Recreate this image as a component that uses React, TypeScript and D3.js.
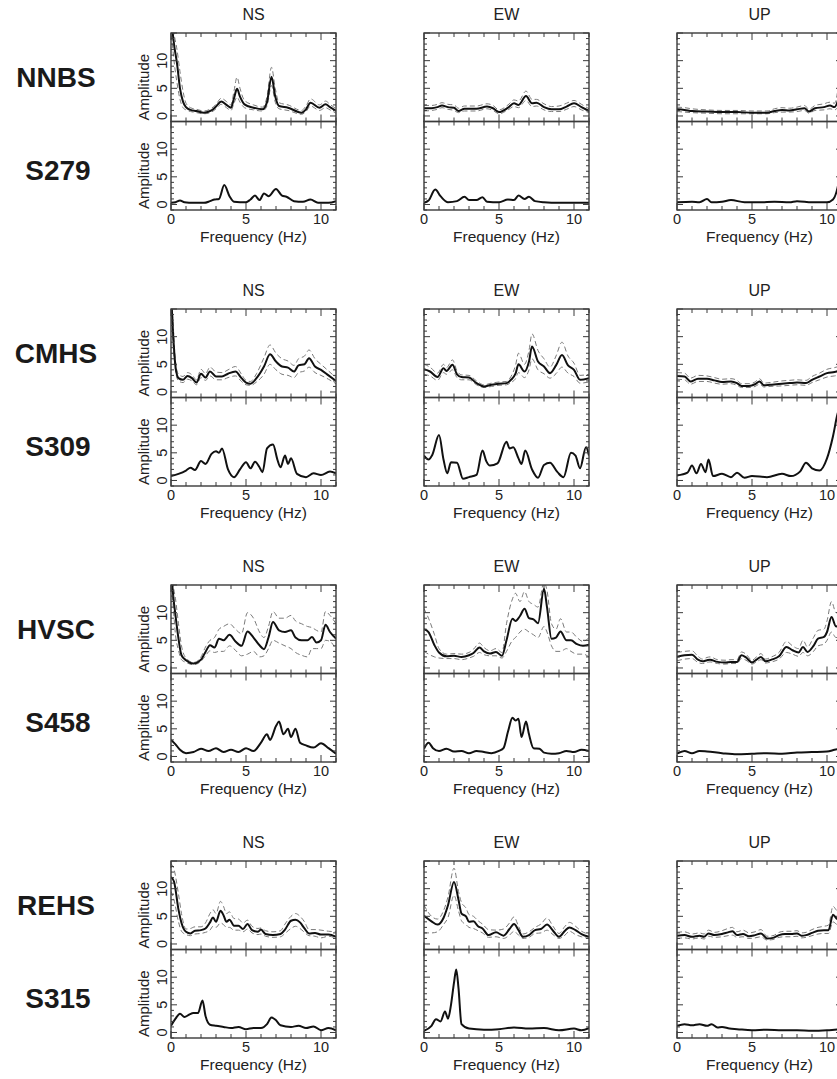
import React from 'react';
import * as d3 from 'd3';

type Band = [number, number, number, number]; // freq, mean, lower, upper
type Pt = [number, number]; // freq, amplitude

// ---- surface stations: mean with dashed +/- bounds ----
const nnbsNS: Band[] = [
  [0, 18, 16, 20], [0.2, 13, 10, 15], [0.4, 9.5, 6, 12], [0.6, 5, 3, 8], [0.8, 2.6, 1.5, 4.5],
  [1.0, 1.6, 1.1, 2.3], [1.3, 1.1, 0.8, 1.5], [1.7, 0.9, 0.6, 1.2], [2.2, 0.6, 0.4, 0.9],
  [2.7, 1.0, 0.7, 1.4], [3.0, 1.7, 1.3, 2.1], [3.35, 2.6, 2.1, 3.2], [3.7, 2.0, 1.5, 2.6],
  [4.0, 1.5, 1.0, 2.0], [4.2, 3.2, 2.3, 4.5], [4.4, 4.9, 3.4, 7.0], [4.6, 3.5, 2.5, 5.0],
  [4.9, 2.1, 1.5, 2.8], [5.5, 1.5, 1.1, 2.0], [6.1, 1.2, 0.9, 1.6], [6.4, 2.5, 1.8, 3.5],
  [6.7, 7.1, 5.5, 8.8], [6.95, 3.5, 2.5, 5.0], [7.2, 1.8, 1.3, 2.4], [7.8, 1.5, 1.0, 2.0],
  [8.7, 0.6, 0.3, 1.0], [9.0, 1.2, 0.8, 1.8], [9.3, 2.4, 1.8, 3.1], [9.9, 1.5, 1.0, 2.0],
  [10.3, 2.1, 1.5, 2.7], [10.6, 1.6, 1.1, 2.1], [11, 0.9, 0.5, 1.3],
];
const nnbsEW: Band[] = [
  [0, 1.4, 0.9, 1.9], [0.5, 1.4, 1.0, 1.9], [0.9, 1.6, 1.2, 2.1], [1.2, 1.9, 1.5, 2.4],
  [1.6, 1.6, 1.2, 2.1], [2.0, 1.5, 1.0, 2.0], [2.3, 0.9, 0.6, 1.4], [2.7, 1.3, 0.9, 1.8],
  [3.5, 1.3, 0.9, 1.8], [4.2, 1.7, 1.3, 2.2], [4.6, 1.4, 1.0, 1.9], [5.0, 0.7, 0.4, 1.1],
  [5.6, 1.5, 1.1, 2.0], [6.0, 2.3, 1.7, 2.9], [6.3, 2.0, 1.5, 2.7], [6.8, 3.6, 2.8, 4.5],
  [7.2, 2.3, 1.7, 3.0], [7.5, 2.4, 1.8, 3.0], [8.0, 1.6, 1.1, 2.2], [8.5, 1.2, 0.8, 1.7],
  [9.0, 1.2, 0.8, 1.8], [9.5, 1.7, 1.2, 2.3], [10.0, 2.3, 1.7, 2.8], [10.5, 1.6, 1.1, 2.1],
  [11, 0.9, 0.6, 1.3],
];
const nnbsUP: Band[] = [
  [0, 1.2, 0.8, 1.6], [0.5, 1.1, 0.7, 1.5], [1.0, 0.9, 0.6, 1.3], [2.0, 0.8, 0.5, 1.1],
  [3.0, 0.7, 0.4, 1.0], [4.0, 0.7, 0.4, 1.0], [5.0, 0.6, 0.4, 0.9], [6.0, 0.6, 0.4, 0.9],
  [6.5, 0.9, 0.6, 1.3], [7.0, 1.1, 0.7, 1.5], [7.5, 1.0, 0.7, 1.4], [8.0, 1.2, 0.8, 1.6],
  [8.5, 1.4, 1.0, 1.9], [8.8, 0.8, 0.5, 1.2], [9.2, 1.4, 1.0, 1.9], [9.8, 1.6, 1.1, 2.2],
  [10.2, 1.9, 1.3, 2.5], [10.5, 1.6, 1.1, 2.3], [10.8, 3.5, 2.0, 6], [11, 6, 3.5, 10],
];
const cmhsNS: Band[] = [
  [0, 18, 16, 20], [0.15, 10, 8.5, 12], [0.3, 4.6, 3.8, 5.5], [0.5, 2.5, 2.0, 3.2],
  [0.8, 2.2, 1.7, 2.8], [1.1, 2.9, 2.3, 3.5], [1.4, 2.5, 2.0, 3.1], [1.7, 1.7, 1.3, 2.2],
  [2.0, 3.3, 2.6, 4.1], [2.3, 2.6, 2.1, 3.3], [2.6, 3.7, 2.9, 4.5], [3.0, 2.8, 2.2, 3.6],
  [3.4, 2.8, 2.2, 3.5], [3.8, 3.3, 2.6, 4.0], [4.3, 3.7, 2.9, 4.6], [4.7, 2.5, 1.9, 3.2],
  [5.0, 1.7, 1.3, 2.1], [5.3, 1.5, 1.2, 1.9], [5.7, 2.5, 1.8, 3.3], [6.2, 4.6, 3.2, 6.2],
  [6.6, 6.8, 5.0, 8.5], [7.0, 5.5, 4.0, 7.0], [7.4, 4.6, 3.2, 6.0], [7.8, 4.4, 3.0, 5.6],
  [8.2, 3.7, 2.6, 4.8], [8.5, 4.8, 3.5, 6.0], [8.9, 5.0, 3.8, 6.5], [9.2, 6.1, 4.5, 7.6],
  [9.6, 4.6, 3.5, 6.0], [10.0, 4.0, 3.0, 5.0], [10.5, 3.0, 2.3, 3.8], [11, 2.0, 1.5, 2.6],
];
const cmhsEW: Band[] = [
  [0, 4.1, 3.2, 5.0], [0.4, 3.7, 2.9, 4.5], [0.9, 2.7, 2.1, 3.4], [1.3, 4.3, 3.5, 5.0],
  [1.5, 3.8, 3.2, 4.4], [1.9, 4.9, 4.0, 5.8], [2.2, 3.2, 2.6, 3.8], [2.5, 2.7, 2.2, 3.1],
  [3.0, 2.6, 2.2, 3.0], [3.5, 1.6, 1.3, 2.0], [4.0, 1.0, 0.8, 1.3], [4.5, 1.3, 1.0, 1.6],
  [5.0, 1.5, 1.2, 1.8], [5.5, 1.6, 1.3, 1.9], [5.8, 2.2, 1.7, 2.8], [6.1, 3.3, 2.4, 4.8],
  [6.3, 5.0, 3.5, 7.0], [6.7, 3.7, 2.6, 5.0], [7.0, 5.5, 4.0, 7.5], [7.2, 8.2, 6.0, 10.5],
  [7.6, 5.5, 4.0, 7.5], [8.0, 4.6, 3.3, 6.0], [8.4, 3.4, 2.5, 4.5], [8.8, 4.8, 3.3, 6.5],
  [9.2, 6.7, 4.5, 9.0], [9.6, 4.8, 3.4, 6.5], [10.0, 4.0, 2.8, 5.2], [10.4, 2.2, 1.6, 3.0],
  [11, 2.5, 1.8, 3.2],
];
const cmhsUP: Band[] = [
  [0, 2.9, 2.3, 3.5], [0.5, 2.8, 2.2, 3.4], [0.9, 1.9, 1.4, 2.5], [1.4, 2.4, 1.9, 3.0],
  [2.0, 2.4, 1.9, 2.9], [2.5, 2.1, 1.6, 2.6], [3.0, 1.8, 1.4, 2.3], [3.6, 1.9, 1.5, 2.4],
  [4.0, 1.6, 1.2, 2.1], [4.3, 1.1, 0.8, 1.5], [4.8, 1.1, 0.8, 1.5], [5.2, 1.4, 1.0, 1.8],
  [5.5, 1.9, 1.4, 2.4], [5.8, 1.2, 0.9, 1.6], [6.2, 1.3, 1.0, 1.7], [7.0, 1.5, 1.1, 2.0],
  [7.5, 1.6, 1.2, 2.1], [8.0, 1.7, 1.3, 2.2], [8.6, 1.6, 1.2, 2.1], [9.0, 2.2, 1.7, 2.8],
  [9.5, 2.8, 2.2, 3.4], [10.0, 3.4, 2.7, 4.1], [10.5, 3.6, 2.9, 4.4], [11, 4.0, 3.2, 4.8],
];
const hvscNS: Band[] = [
  [0, 18, 16, 20], [0.15, 13, 11, 15], [0.3, 9.5, 6, 12.5], [0.5, 5.3, 3.2, 8.0],
  [0.7, 2.3, 1.5, 4.0], [1.0, 1.4, 1.0, 1.8], [1.5, 0.8, 0.6, 1.0], [2.0, 1.5, 1.2, 2.0],
  [2.3, 2.9, 2.2, 3.8], [2.6, 4.1, 3.1, 5.0], [2.9, 3.7, 2.8, 5.5], [3.2, 5.3, 3.0, 7.0],
  [3.5, 5.0, 3.0, 7.5], [3.9, 6.0, 4.0, 8.0], [4.3, 4.8, 3.2, 7.0], [4.7, 4.0, 2.2, 6.2],
  [5.1, 6.6, 2.5, 10.0], [5.5, 5.5, 3.0, 9.0], [5.9, 4.1, 2.0, 6.5], [6.2, 3.4, 2.2, 5.5],
  [6.5, 5.5, 3.5, 7.5], [6.8, 8.3, 5.0, 10.2], [7.2, 6.8, 4.5, 9.0], [7.6, 6.5, 4.0, 9.0],
  [8.0, 6.8, 3.5, 9.5], [8.3, 5.5, 2.8, 8.5], [8.7, 5.0, 2.3, 8.0], [9.1, 5.0, 2.0, 7.5],
  [9.4, 5.6, 3.5, 7.3], [9.7, 4.6, 3.5, 6.8], [10.0, 5.0, 3.5, 6.5], [10.3, 7.8, 5.0, 10.2],
  [10.6, 6.5, 4.8, 9.5], [11, 5.3, 3.3, 8.0],
];
const hvscEW: Band[] = [
  [0, 7.0, 3.0, 10.7], [0.3, 6.5, 2.5, 9.0], [0.7, 4.1, 2.0, 6.0], [1.0, 2.8, 1.8, 3.5],
  [1.5, 2.1, 1.7, 2.5], [2.0, 2.2, 1.7, 2.6], [2.5, 2.0, 1.5, 2.5], [3.0, 2.3, 1.8, 2.8],
  [3.3, 2.7, 2.1, 3.4], [3.7, 3.7, 2.8, 4.5], [4.0, 3.0, 2.4, 3.7], [4.4, 2.6, 2.2, 3.1],
  [4.8, 2.9, 2.2, 3.5], [5.2, 2.2, 1.8, 2.8], [5.5, 5.0, 3.0, 8.0], [5.9, 8.9, 5.0, 12.5],
  [6.1, 8.5, 5.5, 13.5], [6.4, 9.4, 6.5, 12.0], [6.7, 10.7, 7.0, 13.8], [7.0, 9.0, 6.5, 12.0],
  [7.3, 8.8, 6.0, 11.5], [7.6, 8.1, 5.5, 11.0], [8.0, 14.3, 7.5, 15.5], [8.2, 11.0, 6.5, 14],
  [8.5, 5.3, 4.0, 8.0], [8.8, 5.5, 3.0, 7.0], [9.1, 6.6, 3.0, 8.9], [9.5, 5.0, 3.5, 6.5],
  [9.8, 5.0, 3.0, 6.5], [10.2, 4.3, 2.5, 5.5], [10.6, 4.0, 2.5, 4.8], [11, 4.2, 2.0, 5.5],
];
const hvscUP: Band[] = [
  [0, 2.0, 1.3, 2.8], [0.5, 2.3, 1.6, 3.0], [1.0, 2.4, 1.7, 3.1], [1.4, 1.5, 1.0, 2.1],
  [1.7, 1.2, 0.8, 1.6], [2.0, 1.4, 1.0, 1.9], [2.2, 1.5, 1.1, 2.0], [2.7, 1.1, 0.8, 1.5],
  [3.2, 1.0, 0.7, 1.4], [3.6, 1.1, 0.8, 1.5], [4.0, 1.1, 0.8, 1.5], [4.3, 2.3, 1.7, 2.9],
  [4.6, 1.9, 1.4, 2.5], [5.0, 1.0, 0.7, 1.4], [5.3, 1.5, 1.1, 2.0], [5.6, 2.0, 1.5, 2.6],
  [5.9, 1.2, 0.9, 1.6], [6.3, 1.5, 1.1, 2.0], [6.8, 2.1, 1.6, 2.8], [7.3, 3.8, 2.8, 4.8],
  [7.7, 3.2, 2.5, 4.0], [8.1, 2.8, 2.1, 3.5], [8.4, 3.8, 2.8, 5.0], [8.7, 2.9, 2.2, 3.8],
  [9.1, 4.0, 3.0, 5.5], [9.4, 5.3, 4.0, 6.8], [9.8, 5.6, 4.3, 7.0], [10.0, 6.5, 5.0, 8.5],
  [10.3, 9.2, 6.5, 12.0], [10.6, 7.5, 5.5, 10], [11, 8.5, 6, 11],
];
const rehsNS: Band[] = [
  [0, 12.1, 9.5, 14.5], [0.2, 11.3, 8.0, 13.5], [0.5, 6.2, 4.0, 9.0], [0.7, 3.8, 2.3, 5.5],
  [1.0, 2.2, 1.7, 2.7], [1.3, 1.9, 1.5, 2.8], [1.6, 2.4, 1.8, 3.1], [2.0, 2.5, 1.9, 3.1],
  [2.3, 2.8, 2.1, 3.8], [2.6, 3.9, 2.5, 5.5], [2.8, 4.8, 3.2, 6.2], [3.0, 4.0, 3.0, 5.5],
  [3.3, 6.0, 3.8, 7.7], [3.5, 5.2, 3.5, 6.8], [3.7, 4.0, 3.0, 5.5], [3.9, 4.4, 3.0, 5.8],
  [4.2, 3.3, 2.5, 4.6], [4.5, 3.3, 2.5, 4.5], [4.8, 2.7, 2.2, 3.8], [5.1, 3.6, 2.7, 4.3],
  [5.4, 2.5, 2.0, 3.2], [5.8, 2.2, 1.7, 2.8], [6.0, 2.6, 1.8, 2.9], [6.3, 1.8, 1.4, 2.4],
  [6.8, 1.6, 1.2, 2.2], [7.3, 1.8, 1.3, 2.4], [7.6, 2.6, 1.9, 3.6], [8.0, 4.2, 2.8, 5.0],
  [8.3, 4.4, 3.2, 5.5], [8.6, 3.9, 2.8, 5.0], [8.9, 2.8, 2.1, 4.0], [9.2, 1.9, 1.5, 2.6],
  [9.6, 2.0, 1.4, 2.6], [10.0, 1.7, 1.1, 2.5], [10.5, 1.7, 1.4, 2.3], [11, 1.3, 1.0, 2.2],
];
const rehsEW: Band[] = [
  [0, 5.1, 2.0, 7.0], [0.5, 4.1, 2.0, 5.0], [0.9, 3.5, 2.2, 4.5], [1.3, 4.7, 3.5, 6.0],
  [1.6, 7.0, 4.8, 8.5], [2.0, 11.2, 8.8, 13.7], [2.3, 8.0, 6.0, 9.5], [2.5, 5.5, 4.2, 7.5],
  [2.8, 5.0, 3.5, 6.5], [3.0, 4.0, 3.0, 5.3], [3.3, 4.1, 2.8, 5.0], [3.6, 3.2, 2.4, 4.2],
  [3.9, 2.8, 2.0, 3.6], [4.3, 1.6, 1.2, 2.6], [4.8, 2.1, 1.3, 2.5], [5.3, 1.5, 1.0, 2.7],
  [5.7, 2.7, 1.6, 3.8], [6.0, 3.6, 2.3, 4.9], [6.3, 2.5, 1.6, 3.2], [6.6, 1.3, 1.0, 1.8],
  [7.0, 1.6, 1.2, 2.2], [7.4, 2.5, 1.9, 3.0], [7.8, 2.7, 2.0, 3.6], [8.2, 3.5, 2.5, 4.7],
  [8.6, 2.4, 1.7, 3.2], [9.0, 1.3, 1.0, 1.9], [9.4, 2.4, 1.6, 3.2], [9.7, 3.0, 2.3, 3.9],
  [10.1, 2.5, 1.7, 3.2], [10.5, 1.8, 1.3, 2.3], [11, 1.3, 1.0, 1.8],
];
const rehsUP: Band[] = [
  [0, 1.5, 1.0, 2.1], [0.5, 1.6, 1.1, 2.2], [1.0, 1.3, 0.9, 1.8], [1.5, 1.5, 1.1, 2.0],
  [1.8, 1.3, 0.9, 1.8], [2.1, 1.9, 1.4, 2.5], [2.5, 1.6, 1.2, 2.1], [3.0, 1.8, 1.3, 2.4],
  [3.4, 2.1, 1.5, 2.8], [3.7, 2.3, 1.6, 3.0], [4.0, 1.6, 1.2, 2.2], [4.4, 1.8, 1.3, 2.5],
  [4.8, 1.4, 1.0, 2.0], [5.2, 1.6, 1.1, 2.2], [5.6, 1.9, 1.3, 2.6], [6.0, 1.0, 0.7, 1.4],
  [6.4, 1.1, 0.8, 1.5], [6.8, 1.6, 1.2, 2.1], [7.2, 1.8, 1.3, 2.3], [7.6, 1.8, 1.3, 2.3],
  [8.0, 1.9, 1.4, 2.4], [8.3, 1.5, 1.1, 2.0], [8.6, 1.6, 1.2, 2.1], [9.0, 2.0, 1.5, 2.6],
  [9.4, 2.4, 1.8, 3.0], [9.8, 2.5, 1.9, 3.2], [10.1, 2.5, 1.9, 3.4], [10.4, 5.3, 4.0, 6.8],
  [10.7, 4.5, 3.5, 6], [11, 5, 3.5, 6.5],
];

// ---- borehole stations: single spectrum ----
const s279NS: Pt[] = [
  [0, 0.3], [0.3, 0.4], [0.6, 0.7], [0.9, 0.4], [1.5, 0.3], [2.2, 0.3], [2.6, 0.6], [2.9, 0.9],
  [3.2, 1.0], [3.55, 3.5], [3.9, 1.5], [4.2, 0.5], [5.0, 0.4], [5.3, 0.9], [5.6, 1.6], [5.9, 0.8],
  [6.2, 2.0], [6.5, 1.5], [7.0, 2.8], [7.4, 1.6], [7.7, 1.4], [8.2, 0.6], [8.8, 0.5], [9.3, 0.9],
  [9.8, 0.3], [10.5, 0.3], [11, 0.6],
];
const s279EW: Pt[] = [
  [0, 0.3], [0.3, 0.7], [0.75, 2.7], [1.1, 1.5], [1.6, 0.4], [2.2, 0.6], [2.7, 1.4], [3.0, 0.8],
  [3.5, 0.8], [3.9, 1.3], [4.2, 0.5], [5.0, 0.4], [5.6, 0.9], [6.0, 0.8], [6.3, 1.6], [6.7, 1.0],
  [7.0, 1.4], [7.4, 0.6], [8.0, 0.4], [9.0, 0.3], [10.0, 0.3], [11, 0.3],
];
const s279UP: Pt[] = [
  [0, 0.4], [1.0, 0.5], [1.5, 0.4], [2.0, 1.0], [2.3, 0.4], [3.0, 0.5], [3.6, 0.8], [4.5, 0.4],
  [5.5, 0.4], [6.5, 0.5], [7.5, 0.4], [8.0, 0.6], [9.0, 0.4], [10.0, 0.4], [10.4, 0.9],
  [10.7, 3], [11, 8],
];
const s309NS: Pt[] = [
  [0, 0.8], [0.5, 1.2], [1.0, 1.8], [1.3, 2.3], [1.6, 1.9], [2.0, 3.5], [2.3, 3.0], [2.7, 4.8],
  [3.0, 5.3], [3.2, 5.0], [3.4, 5.8], [3.8, 2.0], [4.2, 0.6], [4.6, 2.0], [5.0, 3.3], [5.3, 2.2],
  [5.6, 3.4], [5.9, 2.4], [6.1, 1.5], [6.4, 5.8], [6.8, 6.5], [7.1, 3.7], [7.3, 2.4], [7.6, 4.5],
  [7.8, 3.0], [8.0, 4.0], [8.4, 1.2], [9.0, 0.6], [9.5, 1.3], [10.0, 1.0], [10.6, 1.6], [11, 1.3],
];
const s309EW: Pt[] = [
  [0, 4.5], [0.3, 3.8], [0.55, 4.6], [1.0, 8.2], [1.3, 3.8], [1.55, 1.3], [1.8, 3.3], [2.2, 3.2],
  [2.6, 0.3], [3.0, 0.6], [3.5, 1.0], [3.9, 5.4], [4.15, 3.5], [4.4, 2.7], [4.9, 3.1], [5.5, 7.0],
  [5.7, 5.8], [5.95, 6.0], [6.3, 4.0], [6.5, 3.0], [6.75, 5.4], [7.2, 2.0], [7.6, 0.5], [8.0, 2.8],
  [8.4, 3.2], [8.9, 1.5], [9.3, 0.6], [9.8, 5.0], [10.1, 4.5], [10.4, 2.2], [10.8, 6.0], [11, 4.5],
];
const s309UP: Pt[] = [
  [0, 0.9], [0.7, 1.4], [1.0, 2.7], [1.3, 1.3], [1.6, 3.0], [1.9, 1.5], [2.1, 3.8], [2.4, 0.8],
  [3.0, 1.2], [3.6, 0.6], [4.0, 1.4], [4.5, 0.5], [5.0, 0.8], [6.0, 0.6], [7.0, 1.2], [7.6, 0.8],
  [8.2, 1.6], [8.6, 3.2], [9.0, 2.2], [9.5, 1.8], [10.0, 4.0], [10.4, 8.0], [10.7, 12], [11, 14],
];
const s458NS: Pt[] = [
  [0, 3.0], [0.3, 2.2], [0.6, 1.2], [1.0, 0.6], [1.5, 0.8], [2.0, 1.4], [2.5, 1.0], [3.0, 1.5],
  [3.5, 0.8], [4.0, 1.2], [4.5, 0.8], [5.0, 1.5], [5.5, 1.0], [6.0, 2.5], [6.4, 4.0], [6.6, 3.0],
  [7.0, 5.5], [7.2, 6.3], [7.5, 4.0], [7.8, 5.0], [8.0, 3.5], [8.3, 5.0], [8.6, 2.5], [9.0, 2.0],
  [9.5, 1.6], [10.0, 2.4], [10.5, 1.5], [11, 0.5],
];
const s458EW: Pt[] = [
  [0, 1.4], [0.3, 2.5], [0.6, 1.5], [1.0, 1.0], [1.5, 1.4], [2.0, 0.9], [2.5, 1.0], [3.0, 0.6],
  [3.5, 1.0], [4.0, 0.8], [4.5, 0.6], [5.0, 1.0], [5.3, 1.5], [5.6, 4.5], [5.9, 7.0], [6.1, 6.5],
  [6.3, 6.8], [6.5, 3.5], [6.8, 6.3], [7.0, 4.0], [7.3, 1.5], [7.7, 1.4], [8.0, 0.7], [8.5, 0.5],
  [9.0, 0.6], [9.5, 1.0], [10.0, 0.8], [10.5, 1.2], [11, 1.0],
];
const s458UP: Pt[] = [
  [0, 0.5], [0.5, 1.0], [1.0, 0.6], [1.5, 1.0], [2.0, 0.9], [3.0, 0.6], [4.0, 0.4], [5.0, 0.5],
  [6.0, 0.6], [7.0, 0.5], [8.0, 0.7], [9.0, 0.8], [10.0, 0.9], [10.5, 1.2], [11, 1.5],
];
const s315NS: Pt[] = [
  [0, 1.2], [0.3, 2.5], [0.6, 3.4], [0.9, 2.8], [1.2, 3.2], [1.5, 3.5], [1.8, 3.5], [2.1, 5.8],
  [2.3, 3.0], [2.6, 1.4], [3.0, 1.2], [3.5, 1.0], [4.0, 0.8], [4.5, 1.0], [5.0, 0.6], [5.5, 0.8],
  [6.0, 0.8], [6.4, 1.5], [6.7, 2.7], [7.0, 2.2], [7.3, 1.3], [8.0, 1.0], [8.5, 1.2], [9.0, 0.8],
  [9.5, 1.1], [10.0, 0.4], [10.5, 0.8], [11, 0.4],
];
const s315EW: Pt[] = [
  [0, 0.3], [0.5, 1.2], [0.8, 2.4], [1.1, 2.0], [1.4, 3.8], [1.6, 2.5], [1.8, 5.0], [2.0, 9.0],
  [2.15, 11.4], [2.3, 8.0], [2.5, 1.5], [3.0, 0.7], [4.0, 0.5], [5.0, 0.6], [6.0, 0.9], [7.0, 0.7],
  [8.0, 0.8], [9.0, 0.4], [10.0, 0.7], [10.5, 0.4], [11, 0.8],
];
const s315UP: Pt[] = [
  [0, 1.2], [0.5, 1.5], [1.0, 1.3], [1.5, 1.5], [2.0, 1.2], [2.3, 1.5], [2.7, 0.9], [3.0, 1.0],
  [3.5, 0.7], [4.0, 0.6], [5.0, 0.4], [6.0, 0.5], [7.0, 0.4], [8.0, 0.4], [9.0, 0.3], [10.0, 0.4],
  [10.5, 0.5], [11, 0.6],
];

const topNames = ['NNBS', 'CMHS', 'HVSC', 'REHS'];
const bottomNames = ['S279', 'S309', 'S458', 'S315'];
const components = ['NS', 'EW', 'UP'];
const freqLabels = [0, 5, 10];
const ampLabels = [0, 5, 10];

const surfaceTable: Band[][][] = [
  [nnbsNS, nnbsEW, nnbsUP],
  [cmhsNS, cmhsEW, cmhsUP],
  [hvscNS, hvscEW, hvscUP],
  [rehsNS, rehsEW, rehsUP],
];
const boreTable: Pt[][][] = [
  [s279NS, s279EW, s279UP],
  [s309NS, s309EW, s309UP],
  [s458NS, s458EW, s458UP],
  [s315NS, s315EW, s315UP],
];

// layout
const W = 837;
const H = 1079;
const colX = [171, 424, 677];
const pw = 165;
const ph = 88.5;
const firstTop = 33;
const groupStep = 276;
const font = '"Liberation Sans", Arial, Helvetica, sans-serif';
const frameColor = '#3a3a3a';

const x = d3.scaleLinear().domain([0, 11]).range([0, pw]);
const y = d3.scaleLinear().domain([-1, 15]).range([ph, 0]);

const meanLine = d3.line<Band>().x(d => x(d[0])).y(d => y(d[1])).curve(d3.curveMonotoneX);
const loLine = d3.line<Band>().x(d => x(d[0])).y(d => y(d[2])).curve(d3.curveMonotoneX);
const hiLine = d3.line<Band>().x(d => x(d[0])).y(d => y(d[3])).curve(d3.curveMonotoneX);
const boreLine = d3.line<Pt>().x(d => x(d[0])).y(d => y(d[1])).curve(d3.curveMonotoneX);

function Frame() {
  const xt = x.ticks(11);
  const yt = d3.range(-1, 16);
  const segs: JSX.Element[] = [];
  xt.forEach(v => {
    const len = v % 5 === 0 ? 7 : 4;
    const px = x(v);
    segs.push(<line key={'t' + v} x1={px} x2={px} y1={0} y2={len} />);
    segs.push(<line key={'b' + v} x1={px} x2={px} y1={ph} y2={ph - len} />);
  });
  yt.forEach(v => {
    const len = v % 5 === 0 ? 6 : 3;
    const py = y(v);
    segs.push(<line key={'l' + v} x1={0} x2={len} y1={py} y2={py} />);
    segs.push(<line key={'r' + v} x1={pw} x2={pw - len} y1={py} y2={py} />);
  });
  return (
    <g stroke={frameColor} strokeWidth={1}>
      {segs}
      <rect x={0} y={0} width={pw} height={ph} fill="none" strokeWidth={1.4} />
    </g>
  );
}

function YLabels() {
  return (
    <g fontFamily={font} fill="#222">
      {ampLabels.map(v => (
        <text key={v} transform={`translate(-4,${y(v)}) rotate(-90)`} textAnchor="middle" fontSize={14.5}>
          {v}
        </text>
      ))}
      <text transform={`translate(-22,${ph / 2 + 10}) rotate(-90)`} textAnchor="middle" fontSize={15}>
        Amplitude
      </text>
    </g>
  );
}

function Group({ gi }: { gi: number }) {
  const top = firstTop + gi * groupStep;
  return (
    <g>
      <text x={56} y={top + 54} textAnchor="middle" fontFamily={font} fontWeight="bold" fontSize={28} fill="#1a1a1a">
        {topNames[gi]}
      </text>
      <text x={58} y={top + ph + 58} textAnchor="middle" fontFamily={font} fontWeight="bold" fontSize={28} fill="#1a1a1a">
        {bottomNames[gi]}
      </text>
      {components.map((c, ci) => {
        const sd = surfaceTable[gi][ci];
        const bd = boreTable[gi][ci];
        const id = `clip-${gi}-${ci}`;
        return (
          <g key={c} transform={`translate(${colX[ci]},${top})`}>
            <text x={pw / 2} y={-13} textAnchor="middle" fontFamily={font} fontSize={16} fill="#222">
              {c}
            </text>
            <defs>
              <clipPath id={id}>
                <rect x={0} y={0} width={pw} height={ph} />
              </clipPath>
            </defs>
            {/* surface panel */}
            <g clipPath={`url(#${id})`} fill="none">
              <path d={loLine(sd) || ''} stroke="#7a7a7a" strokeWidth={1} strokeDasharray="5,3" />
              <path d={hiLine(sd) || ''} stroke="#7a7a7a" strokeWidth={1} strokeDasharray="5,3" />
              <path d={meanLine(sd) || ''} stroke="#111" strokeWidth={2} strokeLinejoin="round" />
            </g>
            <Frame />
            {ci === 0 && <YLabels />}
            {/* borehole panel */}
            <g transform={`translate(0,${ph})`}>
              <g clipPath={`url(#${id})`} fill="none">
                <path d={boreLine(bd) || ''} stroke="#111" strokeWidth={2} strokeLinejoin="round" />
              </g>
              <Frame />
              {ci === 0 && <YLabels />}
              <g fontFamily={font} fill="#222">
                {freqLabels.map(v => (
                  <text key={v} x={x(v)} y={ph + 14} textAnchor="middle" fontSize={14.5}>
                    {v}
                  </text>
                ))}
                <text x={pw / 2} y={ph + 32} textAnchor="middle" fontSize={15.5}>
                  Frequency (Hz)
                </text>
              </g>
            </g>
          </g>
        );
      })}
    </g>
  );
}

export default function App() {
  return (
    <svg
      width={W}
      height={H}
      viewBox={`0 0 ${W} ${H}`}
      style={{ position: 'absolute', left: 0, top: 0, background: '#fff', display: 'block' }}
    >
      <rect width={W} height={H} fill="#fff" />
      {topNames.map((_, gi) => (
        <Group key={gi} gi={gi} />
      ))}
    </svg>
  );
}
